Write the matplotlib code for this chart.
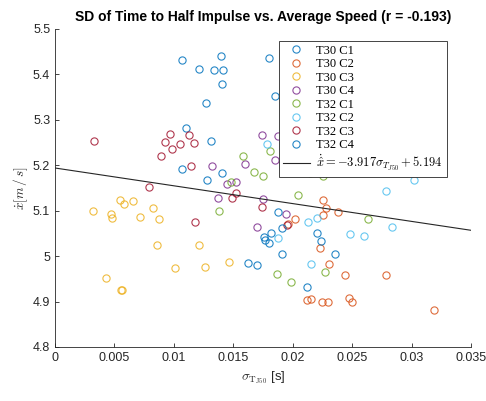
import numpy as np
import matplotlib
matplotlib.use("Agg")
import matplotlib.pyplot as plt
from matplotlib.ticker import FormatStrFormatter

plt.rcParams["font.family"] = ["Liberation Sans", "DejaVu Sans"]
plt.rcParams["mathtext.fontset"] = "cm"

# data (sigma_TJ50 [s], average speed [m/s])
t30c1_x = [0.01068, 0.01398, 0.01213, 0.01334, 0.01412, 0.01406, 0.01267, 0.01099,
           0.01314, 0.01068, 0.01409, 0.01283, 0.01798, 0.01848]
t30c1_y = [5.432, 5.441, 5.413, 5.410, 5.410, 5.378, 5.336, 5.282,
           5.254, 5.191, 5.183, 5.167, 5.436, 5.353]

t30c2_x = [0.02251, 0.02284, 0.02257, 0.02385, 0.02016, 0.01957, 0.02228, 0.02304, 0.02444,
           0.02788, 0.02117, 0.02153, 0.02245, 0.02299, 0.02472, 0.02497, 0.0319]
t30c2_y = [5.124, 5.106, 5.091, 5.098, 5.081, 5.070, 5.017, 4.983, 4.959,
           4.958, 4.904, 4.905, 4.899, 4.898, 4.908, 4.900, 4.882]

t30c3_x = [0.00319, 0.00548, 0.00584, 0.00659, 0.0047, 0.00478, 0.00716, 0.00822, 0.00872,
           0.00858, 0.01208, 0.01009, 0.01261, 0.01468, 0.0043, 0.00556, 0.00565]
t30c3_y = [5.100, 5.124, 5.115, 5.121, 5.093, 5.085, 5.086, 5.106, 5.082,
           5.024, 5.025, 4.974, 4.975, 4.987, 4.951, 4.926, 4.926]

t30c4_x = [0.01322, 0.01596, 0.01448, 0.01521, 0.01742, 0.01879, 0.01943, 0.01848,
           0.01373, 0.01697, 0.01748, 0.0194]
t30c4_y = [5.198, 5.203, 5.159, 5.164, 5.266, 5.265, 5.279, 5.211,
           5.129, 5.065, 5.126, 5.093]

t32c1_x = [0.01585, 0.01675, 0.0175, 0.01477, 0.01809, 0.02148, 0.02253, 0.02041,
           0.01381, 0.01865, 0.01985, 0.02637, 0.02273]
t32c1_y = [5.220, 5.185, 5.176, 5.164, 5.232, 5.182, 5.176, 5.135,
           5.100, 4.961, 4.942, 5.081, 4.965]

t32c2_x = [0.01781, 0.02522, 0.03025, 0.02785, 0.02133, 0.02206, 0.01879, 0.0248,
           0.02603, 0.02838, 0.02153]
t32c2_y = [5.246, 5.185, 5.167, 5.143, 5.076, 5.083, 5.040, 5.049,
           5.045, 5.064, 4.982]

t32c3_x = [0.00324, 0.00967, 0.00928, 0.01127, 0.01051, 0.01171, 0.00981, 0.00895,
           0.01143, 0.00794, 0.01174, 0.01487, 0.01524, 0.01739, 0.0195]
t32c3_y = [5.2545, 5.268, 5.252, 5.267, 5.246, 5.249, 5.235, 5.2205,
           5.198, 5.153, 5.075, 5.127, 5.140, 5.109, 5.069]

t32c4_x = [0.01876, 0.01762, 0.01815, 0.0177, 0.01798, 0.0191, 0.02203, 0.02237,
           0.01907, 0.02352, 0.02119, 0.01624, 0.01697]
t32c4_y = [5.097, 5.043, 5.051, 5.036, 5.029, 5.062, 5.052, 5.034,
           5.005, 5.004, 4.931, 4.985, 4.980]

labels = ["T30 C1", "T30 C2", "T30 C3", "T30 C4", "T32 C1", "T32 C2", "T32 C3", "T32 C4"]
colors = ["#0072BD", "#D95319", "#EDB120", "#7E2F8E", "#77AC30", "#4DBEEE", "#A2142F", "#0072BD"]

slope = -3.917
intercept = 5.194

groups = [(t30c1_x, t30c1_y), (t30c2_x, t30c2_y), (t30c3_x, t30c3_y), (t30c4_x, t30c4_y),
          (t32c1_x, t32c1_y), (t32c2_x, t32c2_y), (t32c3_x, t32c3_y), (t32c4_x, t32c4_y)]

fig = plt.figure(figsize=(4.86, 4.01), dpi=100)
ax = fig.add_axes([0.1132, 0.1347, 0.8558, 0.793])

for (gx, gy), lab, col in zip(groups, labels, colors):
    ax.plot(gx, gy, "o", mfc="none", mec=col, ms=5.2, mew=0.8, alpha=0.85, label=lab)

xf = np.linspace(0, 0.035, 50)
ax.plot(xf, slope * xf + intercept, color="#262626", lw=0.8,
        label=r"$\dot{\hat{x}} = %.3f\sigma_{T_{J50}} + %.3f$" % (slope, intercept))

ax.set_xlim(0, 0.035)
ax.set_ylim(4.8, 5.5)
ax.set_xticks(np.arange(0, 0.0351, 0.005))
ax.set_yticks(np.arange(4.8, 5.501, 0.1))
ax.xaxis.set_major_formatter(FormatStrFormatter("%g"))
ax.yaxis.set_major_formatter(FormatStrFormatter("%g"))
ax.tick_params(direction="in", length=3, width=0.6, labelsize=9, colors="#262626")
for side in ["top", "right"]:
    ax.spines[side].set_visible(False)
for side in ["left", "bottom"]:
    ax.spines[side].set_color("#262626")
    ax.spines[side].set_linewidth(0.6)

ax.set_title("SD of Time to Half Impulse vs. Average Speed (r = -0.193)",
             fontsize=10, fontweight="bold", pad=6)
ax.set_xlabel(r"$\sigma_{\mathrm{T}_{\mathrm{J50}}}$ [s]", fontsize=9.5, color="#262626")
ax.set_ylabel(r"$\dot{x} [m\,/\,s]$", fontsize=9.5, color="#262626", labelpad=2)

leg = ax.legend(loc="upper right", bbox_to_anchor=(0.942, 0.962), borderaxespad=0,
                fancybox=False, edgecolor="#262626", framealpha=1,
                prop={"family": "Liberation Serif", "size": 9},
                handlelength=2.2, handletextpad=0.5, labelspacing=0.12, borderpad=0.3)
leg.get_frame().set_linewidth(0.6)

fig.savefig("out.png", dpi=100)
